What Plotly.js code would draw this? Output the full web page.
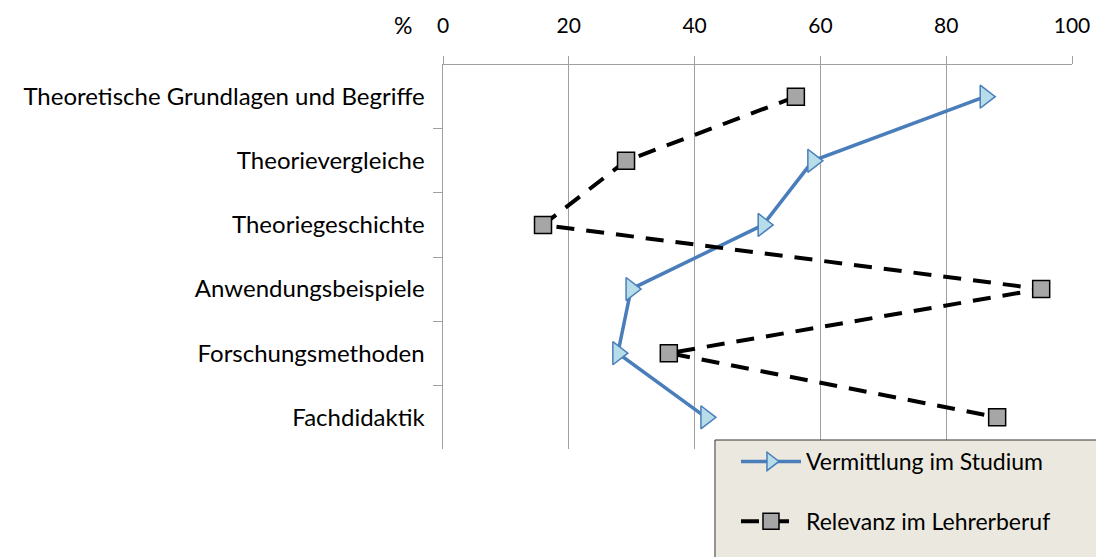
<!DOCTYPE html>
<html>
<head>
<meta charset="utf-8">
<script src="https://cdn.plot.ly/plotly-3.0.1.min.js"></script>
<style>html,body{margin:0;padding:0;background:#fff;}#chart{width:1096px;height:557px;}</style>
</head>
<body>
<div id="chart"></div>
<script>
const categories = ["Theoretische Grundlagen und Begriffe", "Theorievergleiche", "Theoriegeschichte", "Anwendungsbeispiele", "Forschungsmethoden", "Fachdidaktik"];
const vermittlung = [86.2, 58.8, 50.9, 29.9, 27.8, 41.8];
const relevanz = [56.1, 29.1, 15.9, 95.1, 35.9, 88.1];
const xTicks = [0, 20, 40, 60, 80, 100];
const seriesNames = ["Vermittlung im Studium", "Relevanz im Lehrerberuf"];

const FONT = "Lato, 'Open Sans', sans-serif";

const traces = [
  {
    type: "scatter", mode: "lines+markers", name: seriesNames[0], legendgroup: "g1",
    x: vermittlung, y: categories,
    line: {color: "#4a7ebb", width: 3.5},
    marker: {symbol: "triangle-right", size: 20, color: "#b7dee8", line: {color: "#4a7ebb", width: 1.5}}
  },
  {
    type: "scatter", mode: "lines+markers", name: seriesNames[1], legendgroup: "g2",
    x: relevanz, y: categories,
    line: {color: "#000000", width: 4, dash: "18px,12px"},
    marker: {symbol: "square", size: 17, color: "#a6a6a6", line: {color: "#000000", width: 1.5}}
  }
];

const layout = {
  width: 1096, height: 557,
  margin: {l: 443, r: 24, t: 65, b: 108},
  paper_bgcolor: "#ffffff", plot_bgcolor: "#ffffff",
  font: {family: FONT, size: 20, color: "#000"},
  showlegend: true,
  xaxis: {
    side: "top", range: [0, 100], tickvals: xTicks, ticktext: xTicks.map(String),
    showgrid: true, gridcolor: "#a0a0a0", gridwidth: 1,
    showline: true, linecolor: "#a0a0a0", linewidth: 1.5,
    ticks: "outside", ticklen: 8, tickcolor: "#a0a0a0", tickwidth: 1,
    ticklabelstandoff: 14,
    zeroline: false, fixedrange: true,
    tickfont: {family: FONT, size: 21, color: "#000"}
  },
  yaxis: {
    type: "category", categoryorder: "array", categoryarray: categories,
    autorange: "reversed",
    tickson: "boundaries", ticks: "outside", ticklen: 9, tickcolor: "#a0a0a0", tickwidth: 1,
    showgrid: false, showline: true, linecolor: "#a0a0a0", linewidth: 1.5,
    zeroline: false, fixedrange: true,
    ticklabelstandoff: 12,
    tickfont: {family: FONT, size: 24, color: "#000"}
  },
  legend: {
    x: 0.4658, xanchor: "left", y: 0.0234, yanchor: "top",
    bgcolor: "rgba(0,0,0,0)", borderwidth: 0,
    font: {family: FONT, size: 23, color: "#000"},
    traceorder: "grouped", tracegroupgap: 27, itemwidth: 60
  },
  shapes: [
    {type: "rect", xref: "paper", yref: "paper", x0: 0.4324, x1: 1.1, y0: 0.0234, y1: -0.4,
     fillcolor: "#ebe9df", line: {color: "#333333", width: 1}, layer: "above"}
  ],
  annotations: [
    {text: "%", xref: "paper", yref: "paper", x: 0, y: 1, xanchor: "right", yanchor: "bottom",
     xshift: -29, yshift: 24, showarrow: false, font: {family: FONT, size: 23, color: "#000"}}
  ]
};

Plotly.newPlot("chart", traces, layout, {displayModeBar: false, staticPlot: true});
</script>
</body>
</html>
